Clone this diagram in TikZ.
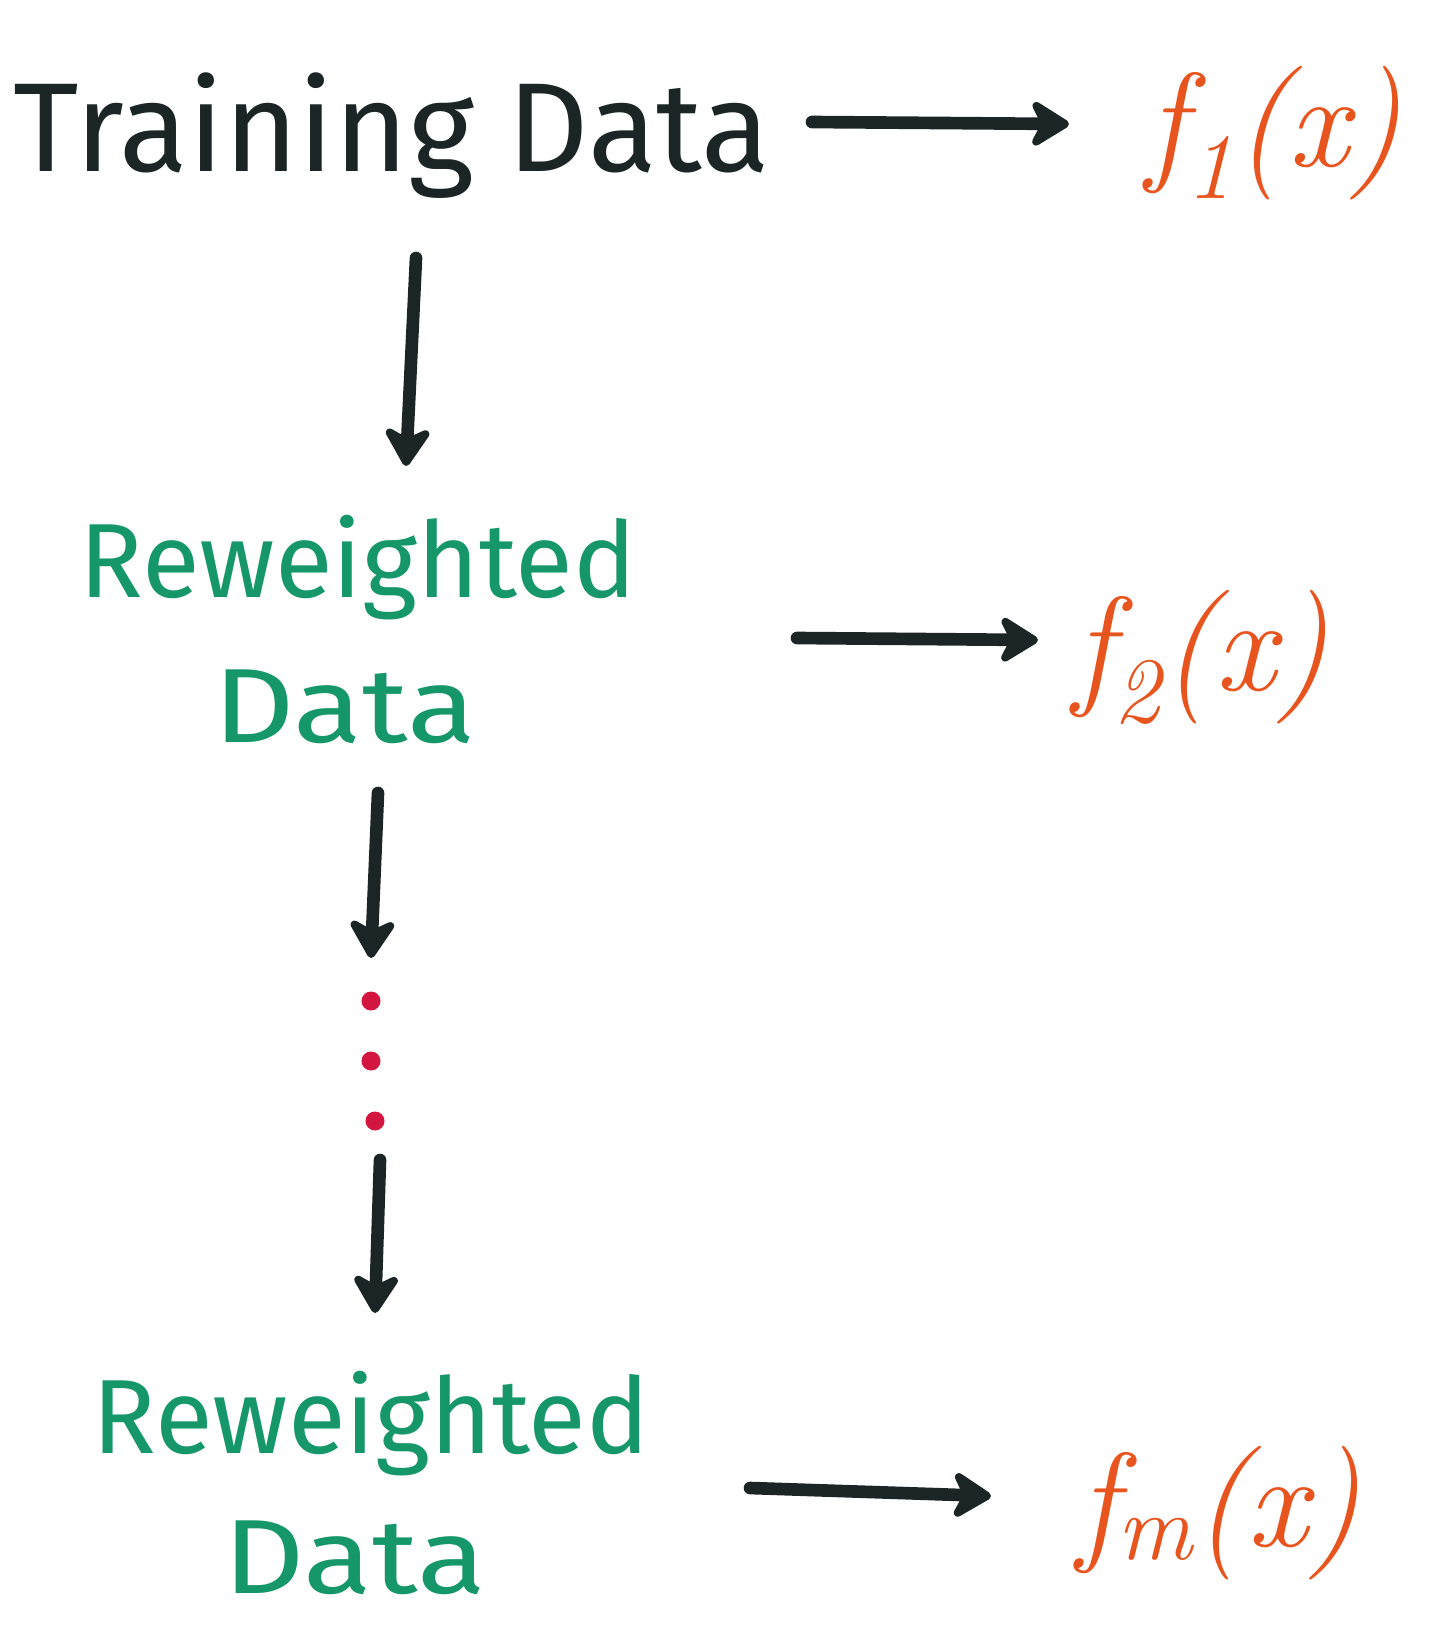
\documentclass[tikz,border=0pt]{standalone}
\usepackage{fontspec}
\setmainfont{Fira Sans}
\newfontfamily\lmr{Latin Modern Roman}
\usetikzlibrary{arrows.meta}
\definecolor{ink}{HTML}{1B2526}
\definecolor{grn}{HTML}{16976A}
\definecolor{org}{HTML}{E8541E}
\definecolor{dotred}{HTML}{D3163F}
\begin{document}
\begin{tikzpicture}[x=0.01cm,y=-0.01cm,
  arr/.style={line width=3.6pt, line cap=round, draw=ink, -{Stealth[length=13pt,width=16pt,inset=4pt,round]}},
  blk/.style={inner sep=0pt, anchor=base, text=ink, font=\fontsize{36}{40}\selectfont},
  gtxt/.style={inner sep=0pt, anchor=base, text=grn, font=\fontsize{30}{34}\selectfont},
  fx/.style={inner sep=0pt, anchor=base, text=org, font=\lmr\fontsize{38}{42}\selectfont},
  dotn/.style={circle, fill=dotred, inner sep=0pt, minimum size=0.19cm}]
\useasboundingbox (0,0) rectangle (1431,1627);
% labels
\node[blk] (td) at (392,171) {Training Data};
\node[gtxt] (rw1) at (358,597) {Reweighted};
\node[gtxt] (dt1) at (345,742) {\scalebox{1.2}[1]{Data}};
\node[gtxt] (rw2) at (371,1453) {Reweighted};
\node[gtxt] (dt2) at (355,1593) {\scalebox{1.2}[1]{Data}};
\node[fx] (f1) at (1274,166) {\itshape f\textsubscript{1}(x)};
\node[fx] (f2) at (1201,690) {\itshape f\textsubscript{2}(x)};
\node[fx] (fm) at (1219,1546) {\itshape f\textsubscript{m}(x)};
% dots
\node[dotn] (d1) at (371,1001) {};
\node[dotn] (d2) at (371,1061) {};
\node[dotn] (d3) at (375,1121) {};
% arrow ends
\coordinate (a1s) at (416,258);
\coordinate (a1e) at (406,466);
\coordinate (a2s) at (378,793);
\coordinate (a2e) at (371,958);
\coordinate (a3s) at (380,1160);
\coordinate (a3e) at (375,1313);
\coordinate (h1s) at (812,122);
\coordinate (h1e) at (1069,124);
\coordinate (h2s) at (797,638);
\coordinate (h2e) at (1038,640);
\coordinate (h3s) at (750,1488);
\coordinate (h3e) at (991,1496);
% arrows
\draw[arr] (a1s) -- (a1e);
\draw[arr] (a2s) -- (a2e);
\draw[arr] (a3s) -- (a3e);
\draw[arr] (h1s) -- (h1e);
\draw[arr] (h2s) -- (h2e);
\draw[arr] (h3s) -- (h3e);
\end{tikzpicture}
\end{document}
